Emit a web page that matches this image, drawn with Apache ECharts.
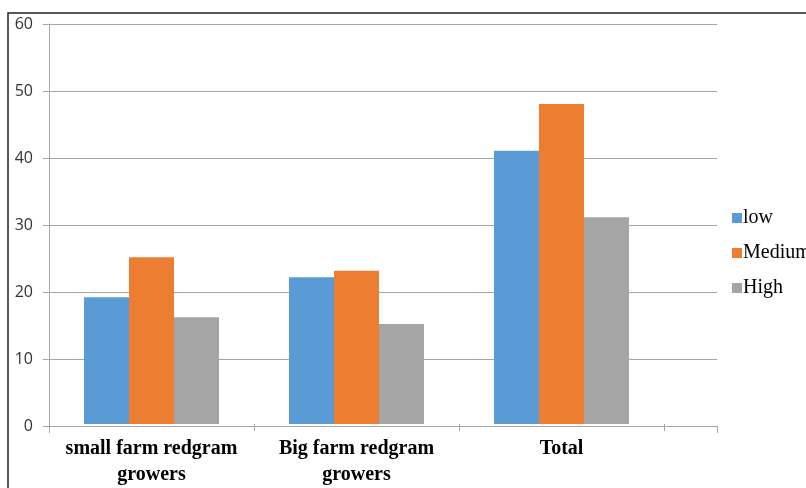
<!DOCTYPE html>
<html>
<head>
<meta charset="utf-8">
<script src="https://cdn.jsdelivr.net/npm/echarts@6/dist/echarts.min.js"></script>
<style>
  html, body { margin: 0; padding: 0; background: #fff; }
  #chart { width: 806px; height: 488px; }
</style>
</head>
<body>
<div id="chart"></div>
<script>
// data
const categories = ['small farm redgram\ngrowers', 'Big farm redgram\ngrowers', 'Total'];
const lowValues = [19, 22, 41];
const mediumValues = [25, 23, 48];
const highValues = [16, 15, 31];

const myChart = echarts.init(document.getElementById('chart'));

const gridTop = 24, gridBottom = 62;
const axisColor = '#a6a6a6';

const option = {
  animation: false,
  textStyle: { fontFamily: 'Liberation Serif' },
  graphic: [{
    type: 'rect',
    shape: { x: 8, y: 13, width: 840, height: 520 },
    style: { fill: 'none', stroke: '#222', lineWidth: 1.5 },
    silent: true
  }],
  legend: {
    orient: 'vertical',
    left: 727,
    top: 203,
    itemWidth: 10,
    itemHeight: 10,
    itemGap: 15,
    icon: 'rect',
    textStyle: { fontFamily: 'Liberation Serif', fontSize: 20, color: '#000', padding: [0, 0, 0, -4] },
    data: ['low', 'Medium', 'High']
  },
  grid: [
    // bars
    { left: 49, right: 142, top: gridTop, bottom: gridBottom },
    // gridlines + axis extending past the last category
    { left: 49, right: 89, top: gridTop, bottom: gridBottom }
  ],
  xAxis: [{
    type: 'category',
    gridIndex: 0,
    data: categories,
    axisLine: { show: false },
    axisTick: { show: true, interval: 0, length: 7, lineStyle: { color: axisColor } },
    axisLabel: {
      interval: 0,
      hideOverlap: false,
      margin: 12,
      fontFamily: 'Liberation Serif',
      fontWeight: 'bold',
      fontSize: 20,
      lineHeight: 26,
      color: '#000'
    }
  }, {
    type: 'category',
    gridIndex: 1,
    data: [''],
    axisLine: { show: true, lineStyle: { color: axisColor, width: 1 } },
    axisTick: { show: true, length: 7, lineStyle: { color: axisColor } },
    axisLabel: { show: false }
  }],
  yAxis: [{
    type: 'value',
    gridIndex: 0,
    min: 0, max: 60, interval: 10,
    axisLine: { show: false },
    axisTick: { show: false },
    axisLabel: { show: false },
    splitLine: { show: false }
  }, {
    type: 'value',
    gridIndex: 1,
    min: 0, max: 60, interval: 10,
    axisLine: { show: true, lineStyle: { color: axisColor } },
    axisTick: { show: true, length: 6, lineStyle: { color: axisColor } },
    axisLabel: { margin: 16, fontFamily: 'Open Sans', fontSize: 16, color: '#333' },
    splitLine: { show: true, lineStyle: { color: axisColor, width: 1 } }
  }],
  series: [{
    name: 'low', type: 'bar', xAxisIndex: 0, yAxisIndex: 0,
    data: lowValues, barWidth: 45, barGap: '0%',
    itemStyle: { color: '#5b9bd5' }
  }, {
    name: 'Medium', type: 'bar', xAxisIndex: 0, yAxisIndex: 0,
    data: mediumValues, barWidth: 45, barGap: '0%',
    itemStyle: { color: '#ed7d31' }
  }, {
    name: 'High', type: 'bar', xAxisIndex: 0, yAxisIndex: 0,
    data: highValues, barWidth: 45, barGap: '0%',
    itemStyle: { color: '#a5a5a5' }
  }]
};

myChart.setOption(option);
</script>
</body>
</html>
